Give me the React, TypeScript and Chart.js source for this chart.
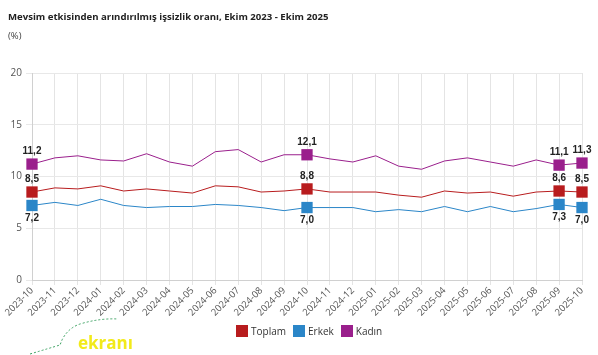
import React, { useEffect, useRef } from "react";
import { Chart, registerables } from "chart.js";

Chart.register(...registerables);

const categories = [
  "2023-10", "2023-11", "2023-12", "2024-01", "2024-02", "2024-03", "2024-04",
  "2024-05", "2024-06", "2024-07", "2024-08", "2024-09", "2024-10", "2024-11",
  "2024-12", "2025-01", "2025-02", "2025-03", "2025-04", "2025-05", "2025-06",
  "2025-07", "2025-08", "2025-09", "2025-10",
];

const toplam = [8.5, 8.9, 8.8, 9.1, 8.6, 8.8, 8.6, 8.4, 9.1, 9.0, 8.5, 8.6, 8.8, 8.5, 8.5, 8.5, 8.2, 8.0, 8.6, 8.4, 8.5, 8.1, 8.5, 8.6, 8.5];
const erkek = [7.2, 7.5, 7.2, 7.8, 7.2, 7.0, 7.1, 7.1, 7.3, 7.2, 7.0, 6.7, 7.0, 7.0, 7.0, 6.6, 6.8, 6.6, 7.1, 6.6, 7.1, 6.6, 6.9, 7.3, 7.0];
const kadin = [11.2, 11.8, 12.0, 11.6, 11.5, 12.2, 11.4, 11.0, 12.4, 12.6, 11.4, 12.1, 12.1, 11.7, 11.4, 12.0, 11.0, 10.7, 11.5, 11.8, 11.4, 11.0, 11.6, 11.1, 11.3];

const seriesNames = ["Toplam", "Erkek", "Kadın"];
const yTicks = [0, 5, 10, 15, 20];
const markedIndices = [0, 12, 23, 24];

const COLORS = ["#b81c1e", "#2b86c8", "#9a1f8c"];

const labelPlugin = {
  id: "pointLabels",
  afterDatasetsDraw(chart: any) {
    const ctx = chart.ctx;
    ctx.save();
    ctx.font = "bold 10px 'Liberation Sans', Arial, sans-serif";
    ctx.fillStyle = "#222";
    ctx.textAlign = "center";
    ctx.textBaseline = "middle";
    chart.data.datasets.forEach((ds: any, di: number) => {
      const meta = chart.getDatasetMeta(di);
      markedIndices.forEach((i) => {
        const pt = meta.data[i];
        if (!pt) return;
        const v = ds.data[i] as number;
        const txt = v.toFixed(1).replace(".", ",");
        const below = di === 1;
        ctx.fillText(txt, pt.x, below ? pt.y + 13 : pt.y - 13);
      });
    });
    ctx.restore();
  },
};

export default function App() {
  const ref = useRef<HTMLCanvasElement>(null);

  useEffect(() => {
    document.body.style.margin = "0";
    const canvas = ref.current!;
    const radius = categories.map((_, i) => (markedIndices.includes(i) ? 8 : 0));
    const mk = (label: string, data: number[], color: string) => ({
      label,
      data,
      borderColor: color,
      backgroundColor: color,
      borderWidth: 1,
      pointStyle: "rect" as const,
      pointRadius: radius,
      pointHoverRadius: radius,
      pointBorderWidth: 0,
      tension: 0,
    });
    const chart = new Chart(canvas, {
      type: "line",
      data: {
        labels: categories,
        datasets: [
          mk(seriesNames[0], toplam, COLORS[0]),
          mk(seriesNames[1], erkek, COLORS[1]),
          mk(seriesNames[2], kadin, COLORS[2]),
        ],
      },
      options: {
        responsive: false,
        animation: false,
        layout: { padding: { left: 0, right: 16, top: 73, bottom: 39 } },
        plugins: {
          legend: { display: false },
          tooltip: { enabled: false },
        },
        scales: {
          x: {
            grid: { color: "#e4e4e4", tickLength: 5 },
            border: { color: "#d0d0d0" },
            ticks: {
              minRotation: 45,
              maxRotation: 45,
              padding: 0,
              color: "#555",
              font: { size: 9.5, family: "'Open Sans', sans-serif" },
            },
            afterFit: (s: any) => {
              s.height = 36;
            },
          },
          y: {
            min: 0,
            max: 20,
            afterBuildTicks: (s: any) => {
              s.ticks = yTicks.map((v) => ({ value: v }));
            },
            grid: { color: "#e8e8e8", tickLength: 6 },
            border: { color: "#d0d0d0" },
            ticks: {
              padding: 4,
              color: "#555",
              font: { size: 10, family: "'Open Sans', sans-serif" },
            },
            afterFit: (s: any) => {
              s.width = 32;
            },
          },
        },
      },
      plugins: [labelPlugin],
    });
    return () => chart.destroy();
  }, []);

  return (
    <div style={{ position: "relative", width: 598, height: 355, background: "#fff", overflow: "hidden" }}>
      <canvas ref={ref} width={598} height={355} style={{ position: "absolute", left: 0, top: 0 }} />
      <div
        style={{
          position: "absolute",
          left: 8,
          top: 10,
          fontFamily: "'Open Sans', sans-serif",
          fontWeight: 700,
          fontSize: 9.6,
          color: "#222",
          whiteSpace: "nowrap",
        }}
      >
        Mevsim etkisinden arındırılmış işsizlik oranı, Ekim 2023 - Ekim 2025
      </div>
      <div
        style={{
          position: "absolute",
          left: 8,
          top: 29,
          fontFamily: "'Open Sans', sans-serif",
          fontSize: 9.5,
          color: "#444",
        }}
      >
        (%)
      </div>
      <div
        style={{
          position: "absolute",
          left: 236,
          top: 324,
          display: "flex",
          alignItems: "center",
          fontFamily: "'Open Sans', sans-serif",
          fontSize: 10,
          color: "#333",
          whiteSpace: "nowrap",
        }}
      >
        {seriesNames.map((n, i) => (
          <div key={n} style={{ display: "flex", alignItems: "center", marginRight: 7 }}>
            <span style={{ display: "inline-block", width: 12, height: 12, background: COLORS[i], marginRight: 3 }} />
            <span>{n}</span>
          </div>
        ))}
      </div>
      <svg width={140} height={45} style={{ position: "absolute", left: 0, top: 310 }}>
        <path d="M30 44 Q50 38 60 35 L62 30 Q68 18 80 14 Q100 8 118 9" stroke="#3aa060" strokeWidth={1} strokeDasharray="2 2" fill="none" />
        <text x={78} y={39} fill="#f2ea1a" fontFamily="'Open Sans', sans-serif" fontWeight={700} fontSize={17}>ekranı</text>
      </svg>
    </div>
  );
}
